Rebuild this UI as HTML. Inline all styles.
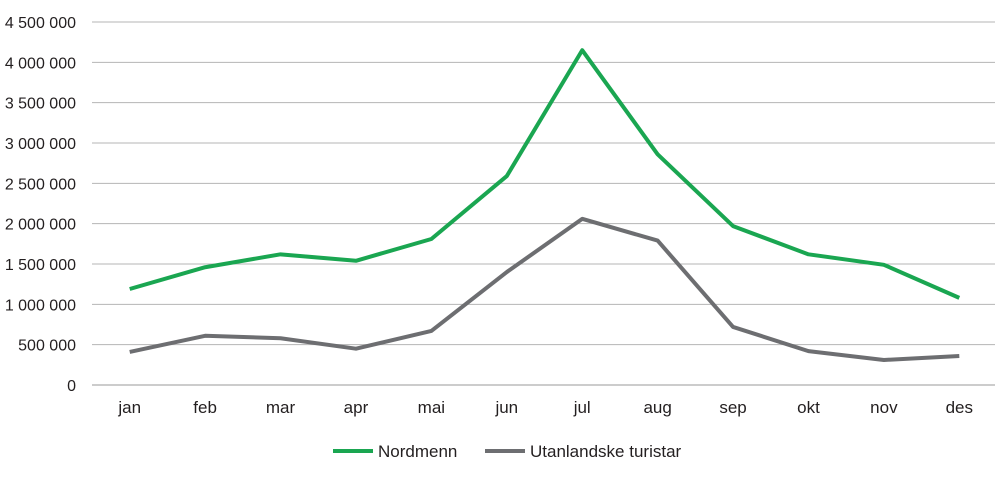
<!DOCTYPE html>
<html><head><meta charset="utf-8"><style>
body{margin:0;background:#fff;font-family:"Liberation Sans",sans-serif;}
svg text{font-family:"Liberation Sans",sans-serif;font-size:16px;fill:#231f20;}
svg text.big{font-size:17px;}
</style></head><body>
<svg id="chart" width="1000" height="476" viewBox="0 0 1000 476">
<g id="grid"></g>
<g id="yticks"></g>
<g id="xticks"></g>
<g id="series"></g>
<g>
<line x1="333" y1="451" x2="373" y2="451" stroke="#1aa651" stroke-width="4"/>
<text class="big" x="378" y="457">Nordmenn</text>
<line x1="485" y1="451" x2="525" y2="451" stroke="#6d6e71" stroke-width="4"/>
<text class="big" x="530" y="457">Utanlandske turistar</text>
</g>
</svg>
<script>
const categories=["jan","feb","mar","apr","mai","jun","jul","aug","sep","okt","nov","des"];
const nordmenn=[1190000,1460000,1620000,1540000,1810000,2590000,4150000,2860000,1970000,1620000,1490000,1080000];
const utanlandske=[410000,610000,580000,450000,670000,1400000,2060000,1790000,720000,420000,310000,360000];
const yTicks=[0,500000,1000000,1500000,2000000,2500000,3000000,3500000,4000000,4500000];
const yTickLabels=["0","500 000","1 000 000","1 500 000","2 000 000","2 500 000","3 000 000","3 500 000","4 000 000","4 500 000"];
const NS="http://www.w3.org/2000/svg";
const x0=92,x1=997,yBase=385,yTop=22,yMax=4500000;
const step=(x1-x0)/categories.length;
const xs=i=>x0+step*(i+0.5);
const ys=v=>yBase-(v/yMax)*(yBase-yTop);
function mk(tag,attrs,parent){const e=document.createElementNS(NS,tag);for(const k in attrs)e.setAttribute(k,attrs[k]);parent.appendChild(e);return e;}
const grid=document.getElementById('grid'),yt=document.getElementById('yticks'),xt=document.getElementById('xticks'),se=document.getElementById('series');
yTicks.forEach((v,i)=>{
 const l=mk('line',{x1:x0,x2:x1-2,y1:ys(v),y2:ys(v),stroke:i===0?'#999':'#b5b5b5','stroke-width':1},grid);
 
 
 const t=mk('text',{x:76,y:ys(v)+6,'text-anchor':'end'},yt);
 t.textContent=yTickLabels[i];
 
 
});
categories.forEach((c,i)=>{
 const t=mk('text',{x:xs(i),y:413,'text-anchor':'middle','class':'big'},xt);
 t.textContent=c;
 
 
});
function line(vals,color,name){
 const p=mk('polyline',{points:vals.map((v,i)=>xs(i)+','+ys(v)).join(' '),fill:'none',stroke:color,'stroke-width':4,'stroke-linejoin':'round'},se);
 
 
}
line(utanlandske,'#6d6e71','line-utanlandske');
line(nordmenn,'#1aa651','line-nordmenn');
</script>
</body></html>
